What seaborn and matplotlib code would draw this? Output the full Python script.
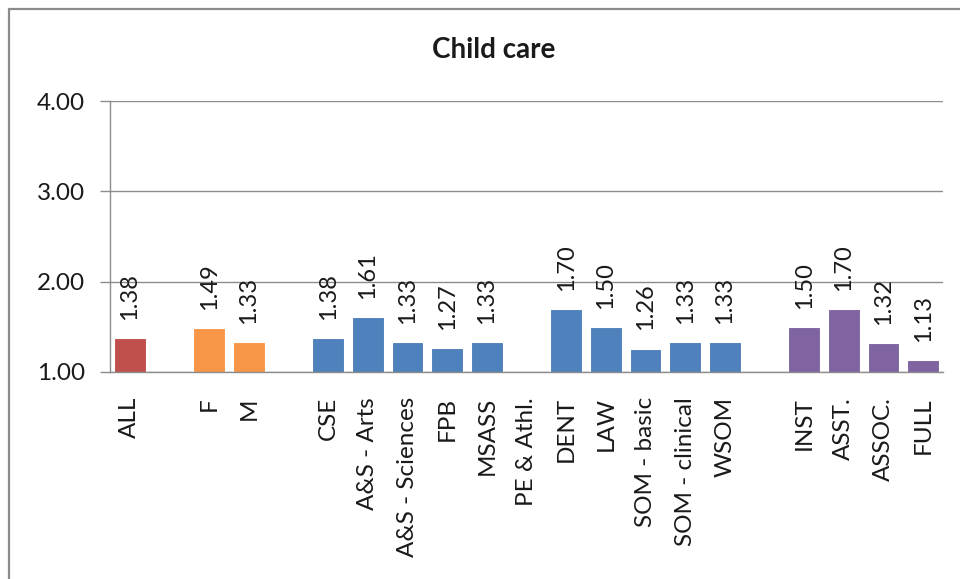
import numpy as np
import pandas as pd
import matplotlib
matplotlib.use('Agg')
import matplotlib.pyplot as plt
from matplotlib.lines import Line2D
import seaborn as sns

# categories in display order; blank strings are the spacer slots between groups
categories = ["ALL", " ", "F", "M", "  ",
              "CSE", "A&S - Arts", "A&S - Sciences", "FPB", "MSASS", "PE & Athl.",
              "DENT", "LAW", "SOM - basic", "SOM - clinical", "WSOM", "   ",
              "INST", "ASST.", "ASSOC.", "FULL"]
values = [1.38, None, 1.49, 1.33, None,
          1.38, 1.61, 1.33, 1.27, 1.33, None,
          1.70, 1.50, 1.26, 1.33, 1.33, None,
          1.50, 1.70, 1.32, 1.13]
groups = ["all", None, "gender", "gender", None,
          "school", "school", "school", "school", "school", "school",
          "school", "school", "school", "school", "school", None,
          "rank", "rank", "rank", "rank"]

group_colors = {"all": "#C0504D", "gender": "#F79646",
                "school": "#4F81BD", "rank": "#8064A2"}

TITLE = "Child care"
GRAY = "#8c8c8c"
TEXT = "#1a1a1a"
FONT = ["Lato", "DejaVu Sans"]

df = pd.DataFrame({"cat": categories, "val": values, "grp": groups})
df = df.dropna(subset=["val"])

sns.set_style("white")
plt.rcParams['font.family'] = FONT

fig = plt.figure(figsize=(9.6, 5.79), dpi=100)
ax = fig.add_axes([110 / 960, 1 - 372 / 579, 833 / 960, 271 / 579])

sns.barplot(data=df, x="cat", y="val", hue="grp", order=categories,
            palette=group_colors, saturation=1, dodge=False, width=0.8,
            legend=False, edgecolor="white", linewidth=0.8, ax=ax)

for cont in ax.containers:
    ax.bar_label(cont, fmt="%.2f", rotation=90, padding=13,
                 fontsize=17, color=TEXT)

ax.set_ylim(1, 4)
ax.set_yticks([1, 2, 3, 4])
ax.set_yticklabels([f"{v:.2f}" for v in [1, 2, 3, 4]])
ax.set_xlim(-0.5, len(categories) - 0.5)
ax.set_xlabel("")
ax.set_ylabel("")

ax.yaxis.grid(True, color=GRAY, linewidth=1)
ax.set_axisbelow(True)

# category labels at bar centres, tick marks at slot boundaries
ax.set_xticks(np.arange(len(categories)))
ax.set_xticklabels(categories, rotation=90)
ax.set_xticks(np.arange(len(categories) + 1) - 0.5, minor=True)
ax.tick_params(axis="x", which="major", length=0, pad=18, labelsize=17.5, labelcolor=TEXT)
ax.tick_params(axis="x", which="minor", length=5, width=1, color=GRAY, direction="out")
ax.tick_params(axis="y", length=7, width=1, color=GRAY, pad=11, labelsize=17.5,
               labelcolor=TEXT, left=True)

for side in ["top", "right"]:
    ax.spines[side].set_visible(False)
for side in ["left", "bottom"]:
    ax.spines[side].set_color(GRAY)
    ax.spines[side].set_linewidth(1)

fig.text(494 / 960, 1 - 50 / 579, TITLE, ha="center", va="center",
         fontsize=20, fontweight="bold", color=TEXT)

# chart frame (only its top and left edges fall inside the picture)
x0, y0 = 8.5 / 960, 1 - 8.5 / 579
fig.add_artist(Line2D([x0, 1], [y0, y0], color=GRAY, linewidth=1.6))
fig.add_artist(Line2D([x0, x0], [0, y0], color=GRAY, linewidth=1.6))

fig.savefig("out.png", dpi=100)
plt.close(fig)
print("saved out.png")
